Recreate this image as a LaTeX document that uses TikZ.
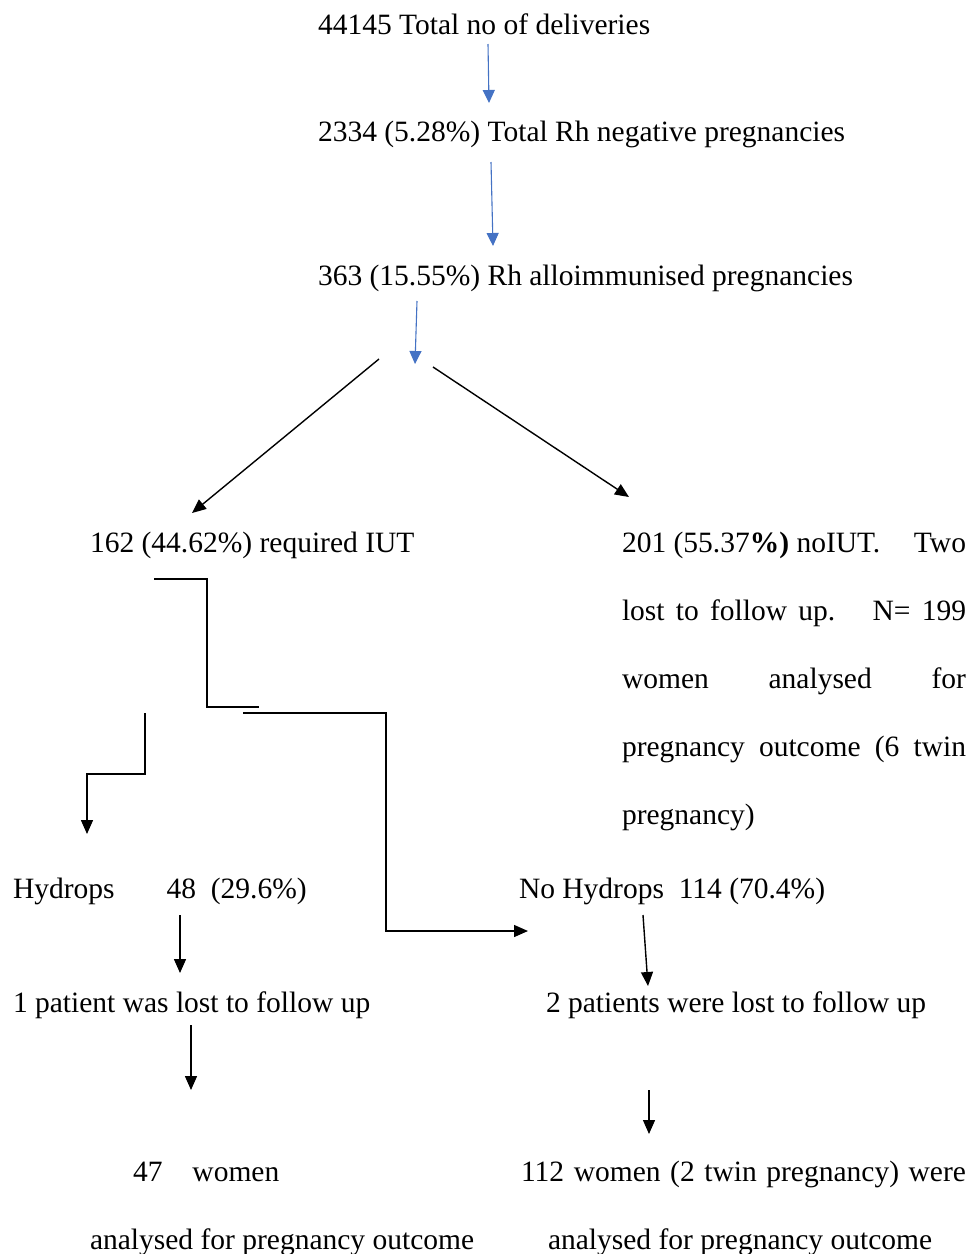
\documentclass[tikz,border=0pt]{standalone}
\usepackage{fontspec}
\setmainfont{Liberation Serif}
\usetikzlibrary{arrows.meta}
\definecolor{arrblue}{HTML}{4472C4}
\begin{document}
\begin{tikzpicture}[x=1pt,y=-1pt,
  txt/.style={anchor=base west,inner sep=0pt,outer sep=0pt,font=\fontsize{29.5}{35}\selectfont},
  bluearr/.style={draw=arrblue,line width=1.1pt,-{Triangle[length=13pt,width=12pt]},arrblue},
  blackarr/.style={draw=black,line width=1.4pt,-{Triangle[length=14pt,width=12pt]}},
  blackline/.style={draw=black,line width=1.4pt}]
\useasboundingbox[fill=white] (0,0) rectangle (979,1254);

% texts
\node[txt] (n1) at (318,34.5) {44145 Total no of deliveries};
\node[txt] (n2) at (318,141) {2334 (5.28\%) Total Rh negative pregnancies};
\node[txt] (n3) at (318,285) {363 (15.55\%) Rh alloimmunised pregnancies};
\node[txt] (iut) at (90,552) {162 (44.62\%) required IUT};
\node[txt] (r1) at (622,552) {\makebox[344pt][l]{201 (55.37\textbf{\%)} noIUT.\hfill Two}};
\node[txt] (r2) at (622,620) {\makebox[344pt][s]{lost to follow up.\hspace{16pt} N= 199}};
\node[txt] (r3) at (622,688) {\makebox[344pt][s]{women analysed for}};
\node[txt] (r4) at (622,756) {\makebox[344pt][s]{pregnancy outcome (6 twin}};
\node[txt] (r5) at (622,824) {pregnancy)};
\node[txt] (hyd) at (13,898) {Hydrops\hspace{52pt}48\ \ (29.6\%)};
\node[txt] (nohyd) at (519,898) {No Hydrops\ \ 114 (70.4\%)};
\node[txt] (lost1) at (13,1012) {1 patient was lost to follow up};
\node[txt] (lost2) at (546,1012) {2 patients were lost to follow up};
\node[txt] (w47) at (133,1181) {47\hspace{30pt}women};
\node[txt] (w112) at (521,1181) {\makebox[445pt][s]{112 women (2 twin pregnancy) were}};
\node[txt] (an1) at (90,1249) {analysed for pregnancy outcome};
\node[txt] (an2) at (548,1249) {analysed for pregnancy outcome};

% connector end points
\coordinate (a1s) at (488,44);   \coordinate (a1e) at (489,103);
\coordinate (a2s) at (491,162);  \coordinate (a2e) at (493,246);
\coordinate (a3s) at (417,301);  \coordinate (a3e) at (415,364);
\coordinate (dls) at (379,359);  \coordinate (dle) at (192,513);
\coordinate (drs) at (433,367);  \coordinate (dre) at (629,497);
\coordinate (e1s) at (154,579);  \coordinate (e1e) at (259,707);
\coordinate (e2s) at (243,713);  \coordinate (e2e) at (528,931);
\coordinate (e3s) at (145,713);  \coordinate (e3e) at (87,834);
\coordinate (h1s) at (180,915);  \coordinate (h1e) at (180,973);
\coordinate (h2s) at (191,1025); \coordinate (h2e) at (191,1090);
\coordinate (n1s) at (643,915);  \coordinate (n1e) at (648,986);
\coordinate (n2s) at (649,1090); \coordinate (n2e) at (649,1134);

% blue arrows
\draw[bluearr] (a1s) -- (a1e);
\draw[bluearr] (a2s) -- (a2e);
\draw[bluearr] (a3s) -- (a3e);

% black arrows
\draw[blackarr] (dls) -- (dle);
\draw[blackarr] (drs) -- (dre);
\draw[blackline] (e1s) -| (207,707) -- (e1e);
\draw[blackarr] (e2s) -| (386,931) -- (e2e);
\draw[blackarr] (e3s) |- (87,774) -- (e3e);
\draw[blackarr] (h1s) -- (h1e);
\draw[blackarr] (h2s) -- (h2e);
\draw[blackarr] (n1s) -- (n1e);
\draw[blackarr] (n2s) -- (n2e);
\end{tikzpicture}
\end{document}
